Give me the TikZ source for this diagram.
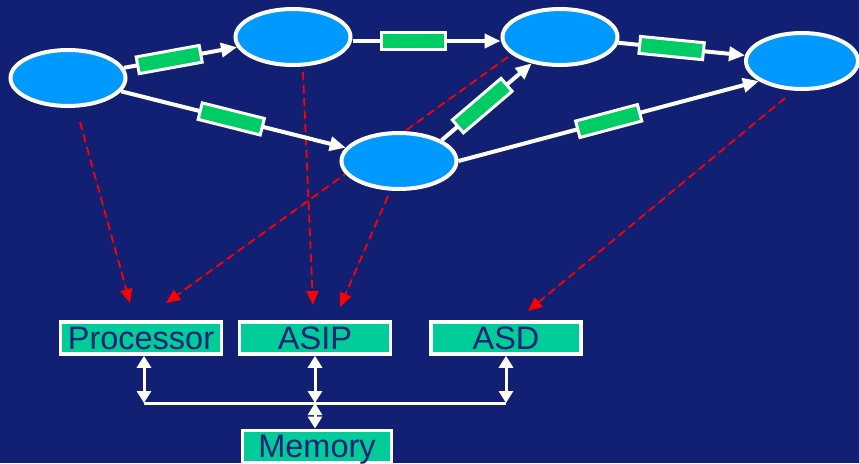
\documentclass[tikz,border=0pt]{standalone}
\usepackage{fontspec}
\setmainfont{Liberation Sans}
\usetikzlibrary{arrows.meta,shapes.geometric,calc}

\definecolor{bgnavy}{RGB}{17,32,115}
\definecolor{textnavy}{RGB}{22,34,118}
\definecolor{taskblue}{RGB}{0,153,255}
\definecolor{chgreen}{RGB}{0,204,102}
\definecolor{unitteal}{RGB}{0,204,153}

\tikzset{
  task/.style={ellipse, draw=white, line width=4pt, fill=taskblue, inner sep=0pt,
               minimum width=115pt, minimum height=56pt},
  flow/.style={draw=white, line width=4pt, -{Triangle[length=16pt,width=14pt]}},
  channel/.style={sloped, rectangle, draw=white, line width=3pt, fill=chgreen,
                  inner sep=0pt, minimum width=64pt, minimum height=17pt},
  mapping/.style={draw=red, line width=1.8pt, dash pattern=on 8pt off 5pt,
                  -{Triangle[length=14pt,width=12pt]}, fill=red},
  unit/.style={rectangle, draw=white, line width=3.5pt, fill=unitteal, inner sep=0pt,
               minimum height=32pt, text=textnavy,
               font=\fontsize{32.5}{36}\selectfont, text height=23pt, text depth=0pt},
  link/.style={draw=white, line width=3pt,
               {Triangle[length=12pt,width=14pt]}-{Triangle[length=12pt,width=14pt]}},
}

\begin{document}
\begin{tikzpicture}[x={(1pt,0)}, y={(0,-1pt)}]
  % canvas
  \fill[bgnavy] (0,0) rectangle (859,463);
  \useasboundingbox (0,0) rectangle (859,463);

  % end points of the mapping arrows
  \coordinate (mA) at (80,122);
  \coordinate (mC) at (508,57);
  \coordinate (mB) at (303,72);
  \coordinate (mE) at (388,196);
  \coordinate (mD) at (785,98);
  \coordinate (pA) at (130,303);
  \coordinate (pC) at (166,303);
  \coordinate (sB) at (313,305);
  \coordinate (sE) at (340,307);
  \coordinate (dD) at (528,311);

  % task-to-unit mapping (behind the task graph)
  \draw[mapping] (mA) -- (pA);
  \draw[mapping] (mC) -- (pC);
  \draw[mapping] (mB) -- (sB);
  \draw[mapping] (mE) -- (sE);
  \draw[mapping] (mD) -- (dD);

  % task graph
  \node[task] (A) at (68,78) {};
  \node[task] (B) at (293,37) {};
  \node[task] (C) at (560,37) {};
  \node[task, minimum width=112pt] (D) at (802,61) {};
  \node[task] (E) at (399,161) {};

  \draw[flow] (A) -- node[channel, pos=0.4] {} (B);
  \draw[flow] (A) -- node[channel, pos=0.49] {} (E);
  \draw[flow] ([yshift=-4pt]B.east) -- node[channel, pos=0.41] {} ([yshift=-4pt]C.west);
  \draw[flow] (C) -- node[channel, pos=0.42] {} (D);
  \draw[flow] (E.26) -- node[channel, pos=0.45] {} (C.223);
  \draw[flow] (E.east) -- node[channel, pos=0.5] {} (D.205);

  % architecture
  \node[unit, minimum width=161pt] (Processor) at (141,338) {Processor};
  \node[unit, minimum width=151pt] (ASIP) at (315,338) {ASIP};
  \node[unit, minimum width=150pt] (ASD) at (506,338) {ASD};
  \node[unit, minimum width=149pt, anchor=north] (Memory) at (317,428.5) {Memory};

  \coordinate (bus) at (315,403);
  \draw[white, line width=3pt] ([xshift=3pt]Processor.south |- bus) -- (ASD.south |- bus);
  \draw[link] ([xshift=3pt]Processor.south) -- ([xshift=3pt]Processor.south |- bus);
  \draw[link] (ASIP.south) -- (ASIP.south |- bus);
  \draw[link] (ASD.south) -- (ASD.south |- bus);
  \draw[link] (bus) -- (bus |- Memory.north);
\end{tikzpicture}
\end{document}
